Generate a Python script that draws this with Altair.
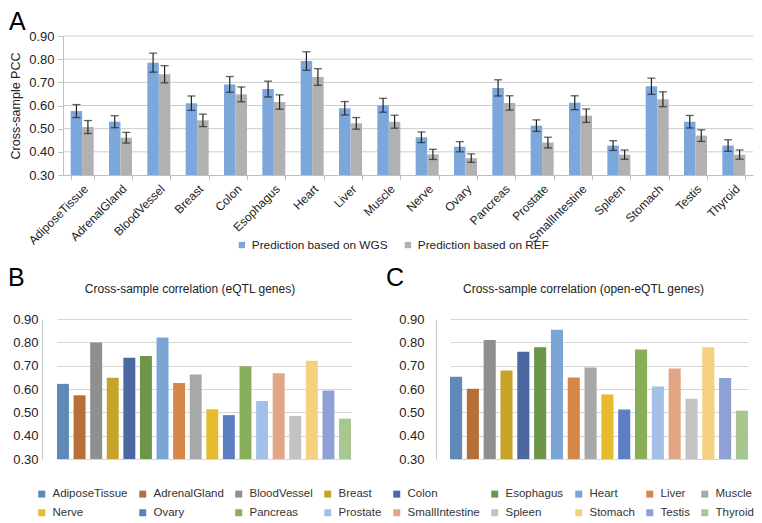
import altair as alt
import pandas as pd

FONT = "Liberation Sans"

tissues = ["AdiposeTissue", "AdrenalGland", "BloodVessel", "Breast", "Colon",
           "Esophagus", "Heart", "Liver", "Muscle", "Nerve", "Ovary", "Pancreas",
           "Prostate", "SmallIntestine", "Spleen", "Stomach", "Testis", "Thyroid"]

series = ["Prediction based on WGS", "Prediction based on REF"]
series_colors = ["#7ca7db", "#b1b1b1"]

wgs = [0.576, 0.530, 0.785, 0.610, 0.691, 0.671, 0.792, 0.588, 0.601,
       0.463, 0.422, 0.676, 0.513, 0.612, 0.427, 0.683, 0.530, 0.427]
wgs_err = [0.028, 0.026, 0.041, 0.031, 0.034, 0.034, 0.040, 0.029, 0.030,
           0.023, 0.022, 0.035, 0.025, 0.030, 0.021, 0.035, 0.027, 0.025]
ref = [0.507, 0.461, 0.735, 0.536, 0.648, 0.615, 0.723, 0.523, 0.530,
       0.389, 0.373, 0.611, 0.440, 0.556, 0.388, 0.627, 0.470, 0.388]
ref_err = [0.028, 0.023, 0.037, 0.027, 0.032, 0.031, 0.036, 0.025, 0.028,
           0.022, 0.018, 0.031, 0.023, 0.029, 0.020, 0.032, 0.025, 0.020]

eqtl = [0.622, 0.573, 0.799, 0.648, 0.734, 0.741, 0.821, 0.626, 0.662,
        0.513, 0.488, 0.698, 0.549, 0.667, 0.484, 0.721, 0.594, 0.473]
open_eqtl = [0.653, 0.601, 0.810, 0.679, 0.760, 0.779, 0.854, 0.649, 0.692,
             0.576, 0.512, 0.769, 0.611, 0.688, 0.558, 0.779, 0.647, 0.507]

tissue_colors = ["#6189b8", "#b5703a", "#8f8f8f", "#c8a329", "#4b68a3", "#6e9648",
                 "#7aa5d5", "#d5874a", "#a8a8a8", "#e6bc2e", "#5c7ec3", "#89ae5a",
                 "#a3c0e6", "#e3a685", "#c3c3c3", "#f4d17e", "#8ea1d4", "#a7c78f"]

y_ticks = [0.3, 0.4, 0.5, 0.6, 0.7, 0.8, 0.9]

title_b = "Cross-sample correlation (eQTL genes)"
title_c = "Cross-sample correlation (open-eQTL genes)"

# ---------------- Panel A ----------------
rows = []
for i, t in enumerate(tissues):
    rows.append(dict(tissue=t, series=series[0], value=wgs[i],
                     lo=wgs[i] - wgs_err[i], hi=wgs[i] + wgs_err[i]))
    rows.append(dict(tissue=t, series=series[1], value=ref[i],
                     lo=ref[i] - ref_err[i], hi=ref[i] + ref_err[i]))
dfA = pd.DataFrame(rows)

WA, HA = 711, 139
SHIFT = 21  # panel A's axis sits further right than panels B/C

xA = alt.X("tissue:N", sort=tissues,
           scale=alt.Scale(paddingInner=0.4, paddingOuter=0.2, range=[SHIFT, WA]),
           axis=alt.Axis(title=None, labelAngle=-45, labelFontSize=12,
                         labelColor="#222", tickBand="extent", tickSize=5,
                         tickColor="#bfbfbf", domainColor="#bfbfbf",
                         labelPadding=3, grid=False))
xoffA = alt.XOffset("series:N", sort=series, scale=alt.Scale(paddingInner=0, paddingOuter=0))


def yA(field):
    return alt.Y(field, scale=alt.Scale(domain=[0.3, 0.9], zero=False, nice=False),
                 axis=alt.Axis(values=y_ticks, format=".2f", title="Cross-sample PCC",
                               titleFontSize=12.5, titleFontWeight="normal",
                               titleColor="#222", titlePadding=6,
                               labelFontSize=13, labelColor="#222",
                               labelPadding=4, tickSize=5, tickColor="#bfbfbf",
                               domainColor="#bfbfbf", grid=False, offset=-SHIFT))


gridA = alt.Chart(pd.DataFrame({"v": y_ticks[1:]})).mark_rule(
    color="#cccccc", strokeWidth=1).encode(
    y=yA("v:Q"), x=alt.value(SHIFT), x2=alt.value(WA))
barsA = alt.Chart(dfA).mark_bar().encode(
    x=xA, xOffset=xoffA, y=yA("value:Q"), y2=alt.datum(0.3),
    color=alt.Color("series:N", sort=series,
                    scale=alt.Scale(domain=series, range=series_colors),
                    legend=alt.Legend(orient="none", legendX=194, legendY=203,
                                      direction="horizontal", title=None,
                                      symbolType="square", symbolSize=40,
                                      symbolStrokeWidth=0,
                                      labelFontSize=11.8, labelColor="#222",
                                      columnPadding=14, labelOffset=4, padding=0)))
rulesA = alt.Chart(dfA).mark_rule(color="#222", strokeWidth=1.2).encode(
    x=xA, xOffset=xoffA, y=yA("lo:Q"), y2="hi:Q")
capLoA = alt.Chart(dfA).mark_tick(color="#222", thickness=1.3, size=8,
                                  orient="horizontal").encode(
    x=xA, xOffset=xoffA, y=yA("lo:Q"))
capHiA = alt.Chart(dfA).mark_tick(color="#222", thickness=1.3, size=8,
                                  orient="horizontal").encode(
    x=xA, xOffset=xoffA, y=yA("hi:Q"))
letterA = alt.Chart(pd.DataFrame({"t": ["A"]})).mark_text(
    align="left", baseline="top", fontSize=25, font=FONT, color="#000").encode(
    text="t:N", x=alt.value(-33), y=alt.value(-26))

panelA = alt.layer(gridA, barsA, rulesA, capLoA, capHiA, letterA).properties(
    width=WA, height=HA)

# ---------------- Panels B & C ----------------
dfB = pd.DataFrame({"tissue": tissues, "value": eqtl})
dfC = pd.DataFrame({"tissue": tissues, "value": open_eqtl})

WB, WC, HB = 324, 317, 140


def ybc(label_pad):
    return alt.Y("value:Q", scale=alt.Scale(domain=[0.3, 0.9], zero=False, nice=False),
                 axis=alt.Axis(values=y_ticks, format=".2f", title=None,
                               labelFontSize=13, labelColor="#222",
                               labelPadding=label_pad, ticks=False,
                               domainColor="#c8c8c8", gridColor="#d6d6d6"))


def xbc(lo, hi):
    return alt.X("tissue:N", sort=tissues,
                 scale=alt.Scale(paddingInner=0.28, paddingOuter=0, range=[lo, hi]),
                 axis=None)


legend_t = alt.Legend(orient="none", legendX=-6, legendY=169, columns=9,
                      direction="horizontal", title=None, symbolType="square",
                      symbolSize=49, symbolStrokeWidth=0, labelFontSize=11.5,
                      labelColor="#333", columnPadding=9, rowPadding=6,
                      labelOffset=5, padding=0)

barsB = alt.Chart(dfB).mark_bar().encode(
    x=xbc(15, 309), y=ybc(4), y2=alt.datum(0.3),
    color=alt.Color("tissue:N", sort=tissues,
                    scale=alt.Scale(domain=tissues, range=tissue_colors),
                    legend=legend_t))
titleB = alt.Chart(pd.DataFrame({"t": [title_b]})).mark_text(
    align="center", baseline="alphabetic", fontSize=12, font=FONT, color="#222").encode(
    text="t:N", x=alt.value(WB / 2 - 14), y=alt.value(-26))
letterB = alt.Chart(pd.DataFrame({"t": ["B"]})).mark_text(
    align="left", baseline="top", fontSize=25, font=FONT, color="#000").encode(
    text="t:N", x=alt.value(-34), y=alt.value(-53))
panelB = alt.layer(barsB, titleB, letterB).properties(width=WB, height=HB)

barsC = alt.Chart(dfC).mark_bar().encode(
    x=xbc(14, 312), y=ybc(12), y2=alt.datum(0.3),
    color=alt.Color("tissue:N", sort=tissues,
                    scale=alt.Scale(domain=tissues, range=tissue_colors),
                    legend=None))
titleC = alt.Chart(pd.DataFrame({"t": [title_c]})).mark_text(
    align="center", baseline="alphabetic", fontSize=12, font=FONT, color="#222").encode(
    text="t:N", x=alt.value(WC / 2 - 11), y=alt.value(-26))
letterC = alt.Chart(pd.DataFrame({"t": ["C"]})).mark_text(
    align="left", baseline="top", fontSize=25, font=FONT, color="#000").encode(
    text="t:N", x=alt.value(-50), y=alt.value(-53))
panelC = alt.layer(barsC, titleC, letterC).properties(width=WC, height=HB)

bottom = alt.hconcat(panelB, panelC, spacing=70, bounds="flush").resolve_scale(
    color="independent")

chart = alt.vconcat(panelA, bottom, spacing=14).resolve_scale(
    color="independent").properties(
    padding={"top": 2, "left": 0, "right": 0, "bottom": 0}).configure(
    font=FONT).configure_view(stroke=None).configure_axis(
    labelFont=FONT, titleFont=FONT).configure_legend(labelFont=FONT)

chart.save("out.html", embed_options={"renderer": "svg", "actions": False})
